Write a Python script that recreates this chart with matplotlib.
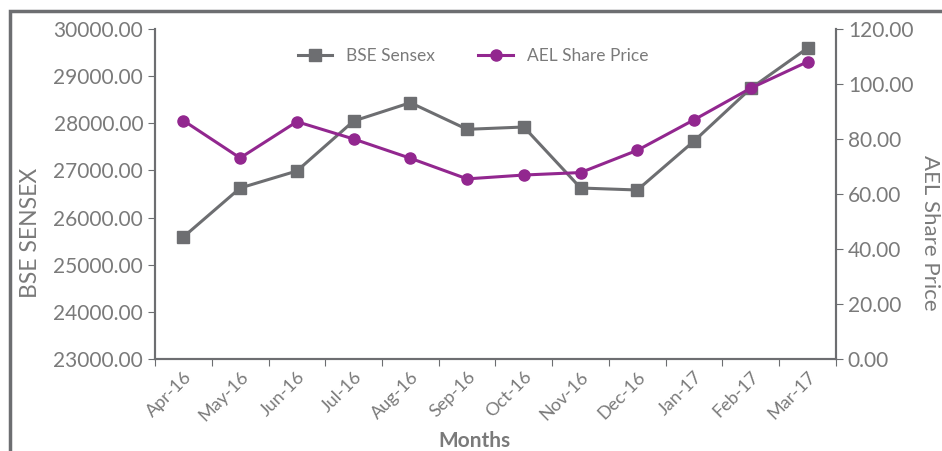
import matplotlib
matplotlib.use('Agg')
import matplotlib.pyplot as plt
from matplotlib.patches import Rectangle

# Plot config
DPI = 100
WIDTH = 942.0
HEIGHT = 451.0
GREY = '#6d6e71'
PURPLE = '#92278f'
TEXT = '#7a7a7a'

months = ['Apr-16', 'May-16', 'Jun-16', 'Jul-16', 'Aug-16', 'Sep-16',
          'Oct-16', 'Nov-16', 'Dec-16', 'Jan-17', 'Feb-17', 'Mar-17']
sensex = [25588, 26627, 26988, 28048, 28437, 27872,
          27921, 26627, 26585, 27624, 28742, 29597]
ael_price = [86.7, 73.1, 86.3, 80.0, 73.0, 65.5,
             66.9, 67.8, 75.9, 87.0, 98.5, 108.1]

plt.rcParams['font.family'] = ['Lato', 'DejaVu Sans']

fig = plt.figure(figsize=(WIDTH / DPI, HEIGHT / DPI), dpi=DPI)
ax = fig.add_axes([155 / WIDTH, 1 - 359 / HEIGHT, 681 / WIDTH, 330 / HEIGHT])
ax2 = ax.twinx()

x = list(range(len(months)))
l1, = ax.plot(x, sensex, color=GREY, lw=2.2, marker='s', ms=8, label='BSE Sensex')
l2, = ax2.plot(x, ael_price, color=PURPLE, lw=2.2, marker='o', ms=8, label='AEL Share Price')

ax.set_xlim(-0.5, len(months) - 0.5)
ax.set_ylim(23000, 30000)
ax2.set_ylim(0, 120)
ax.set_yticks(range(23000, 30001, 1000))
ax2.set_yticks(range(0, 121, 20))
ax.set_yticklabels([f'{v:.2f}' for v in range(23000, 30001, 1000)])
ax2.set_yticklabels([f'{v:.2f}' for v in range(0, 121, 20)])

# category boundaries get the tick marks, labels sit in the middle
ax.set_xticks([i + 0.5 for i in range(-1, len(months))])
ax.set_xticklabels([''] * (len(months) + 1))
ax.set_xticks(x, minor=True)
ax.set_xticklabels(months, minor=True, rotation=45, ha='right', rotation_mode='anchor')
ax.tick_params(axis='x', which='minor', length=0, labelsize=13, colors=TEXT, pad=7)
ax.tick_params(axis='x', which='major', length=5, color=GREY)

for a in (ax, ax2):
    a.spines['top'].set_visible(False)
    for s in ('left', 'right', 'bottom'):
        a.spines[s].set_color(GREY)
        a.spines[s].set_linewidth(1.5)
    a.tick_params(axis='y', labelsize=15, colors=GREY, labelcolor=TEXT, length=5)

ax.set_ylabel('BSE SENSEX', fontsize=16.5, color=TEXT)
ax.yaxis.set_label_coords(-114 / 681, 0.382)
ax2.set_ylabel('AEL Share Price', fontsize=16, color=TEXT, rotation=270, va='bottom')
ax2.yaxis.set_label_coords(1 + 84 / 681, 0.382)
fig.text(474 / WIDTH, 1 - 441 / HEIGHT, 'Months', fontsize=15, fontweight='bold',
         color=TEXT, ha='center', va='center')

ax.legend([l1, l2], ['BSE Sensex', 'AEL Share Price'], loc='upper center',
          bbox_to_anchor=(0.467, 0.99), ncol=2, frameon=False, fontsize=12.5,
          handlelength=2, columnspacing=2.5, labelcolor=TEXT)

fig.patches.append(Rectangle((10 / WIDTH, -0.1), 1.0, 1 - 11 / HEIGHT + 0.1,
                             transform=fig.transFigure, fill=False,
                             edgecolor=GREY, lw=2.5))

plt.savefig('out.png', dpi=DPI)
